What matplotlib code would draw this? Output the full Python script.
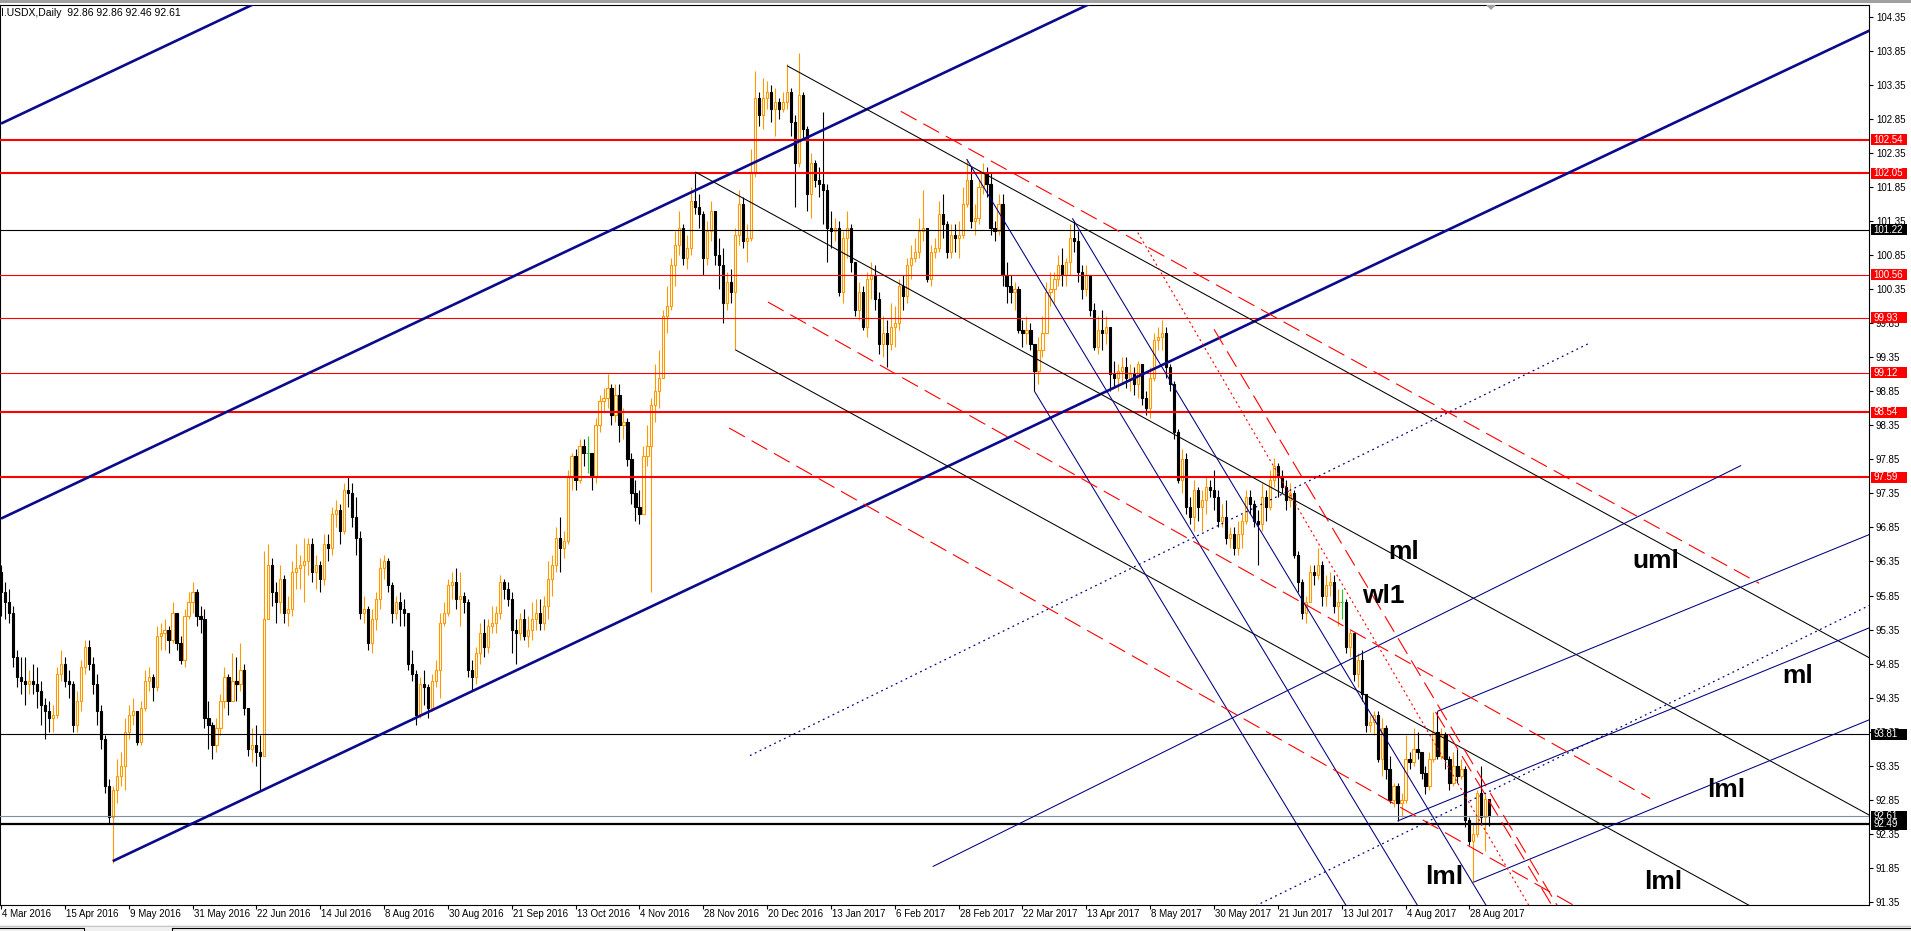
import numpy as np
import pandas as pd
import matplotlib
matplotlib.use('Agg')
import matplotlib.pyplot as plt
import matplotlib.transforms as mtransforms
from matplotlib.patches import Rectangle, Polygon

plt.rcParams['font.family'] = ['Liberation Sans', 'DejaVu Sans']
plt.rcParams['lines.scale_dashes'] = False

# ---------------- bars shown on the chart ----------------
holidays = ['2016-07-29', '2016-12-26', '2017-01-02', '2017-04-14']
days = pd.bdate_range('2016-03-24', '2017-09-04')
days = days[~days.isin(pd.to_datetime(holidays))]

first_open = 96.20

closes = [
    # Mar 2016
    95.90, 95.75, 95.60, 94.95, 94.65, 94.60,
    # Apr
    94.55, 94.60, 94.55, 94.45, 94.25, 94.15, 94.05, 94.10, 94.70, 94.85, 94.60,
    94.55, 93.95, 94.30, 94.80, 95.10, 94.85, 94.55, 94.15, 93.75, 93.05,
    # May
    92.60, 93.00, 93.20, 93.35, 93.85, 94.10, 94.15, 93.70, 94.20, 94.60, 94.65,
    94.50, 95.25, 95.30, 95.35, 95.20, 95.60, 95.15, 94.90, 95.55, 95.75, 95.90,
    # Jun
    95.55, 95.50, 94.05, 93.95, 93.65, 93.90, 94.30, 94.65, 94.30, 94.60, 94.55,
    94.75, 94.20, 93.60, 93.65, 93.55, 93.50, 95.50, 96.30, 95.90, 95.75, 96.10,
    # Jul
    95.60, 95.65, 96.20, 96.25, 96.30, 96.35, 96.60, 96.20, 96.30, 96.10,
    96.60, 96.55, 97.05, 97.10, 96.80, 97.40, 97.35, 97.00, 96.70, 95.60,
    # Aug
    95.65, 95.15, 95.50, 95.80, 96.25, 96.35, 96.00, 95.60, 95.75, 95.65, 95.60, 94.85,
    94.70, 94.10, 94.55, 94.50, 94.20, 94.60, 94.75, 95.45, 95.60, 96.00, 96.05,
    # Sep
    95.80, 95.85, 95.75, 94.75, 94.65, 95.00, 95.30, 95.10, 95.40, 95.45, 95.60,
    96.05, 95.95, 95.80, 95.35, 95.30, 95.50, 95.25, 95.35, 95.50, 95.60, 95.45,
    # Oct
    95.70, 96.10, 96.30, 96.70, 96.55, 96.65, 97.60, 97.90, 97.55, 98.05, 97.95,
    97.95, 97.60, 98.35, 98.70, 98.75, 98.90, 98.50, 98.80, 98.35, 98.40,
    # Nov
    97.85, 97.35, 97.15, 97.05, 97.90, 98.05, 98.65, 98.85, 99.05, 99.95, 100.10,
    100.70, 101.00, 101.25, 100.80, 100.95, 101.65, 101.55, 101.45, 100.80, 101.20, 101.50,
    # Dec
    100.85, 100.70, 100.15, 100.45, 100.30, 101.15, 101.60, 101.05, 101.10, 102.05, 103.15,
    102.90, 103.15, 103.25, 103.00, 103.10, 103.00, 103.10, 103.25, 102.80, 102.20,
    # Jan 2017
    103.20, 102.70, 101.75, 102.20, 101.95, 101.90, 101.80, 101.25, 101.20, 101.25, 100.30,
    101.10, 101.25, 100.75, 100.05, 100.30, 99.80, 100.50, 100.55, 100.20, 99.55,
    # Feb
    99.70, 99.55, 99.80, 99.85, 100.40, 100.25, 100.70, 100.80, 100.90, 101.20,
    101.25, 100.50, 100.90, 100.95, 101.45, 101.30, 100.90, 101.15, 101.10, 101.15,
    # Mar
    101.60, 101.95, 101.35, 101.40, 101.85, 102.05, 101.90, 101.25, 101.20, 101.60, 100.55, 100.40,
    100.30, 100.35, 99.75, 99.70, 99.75, 99.55, 99.15, 99.45, 99.70, 100.30, 100.35,
    # Apr
    100.50, 100.70, 100.55, 100.75, 101.10, 101.05, 100.60, 100.35, 100.55, 100.05,
    99.50, 99.75, 99.70, 99.80, 99.10, 99.05, 99.15, 99.20, 99.05,
    # May
    99.10, 98.95, 99.25, 98.75, 98.60, 99.05, 99.60, 99.65, 99.70, 99.20, 98.95, 98.25,
    97.55, 97.85, 97.15, 97.00, 97.40, 97.15, 97.25, 97.45, 97.40, 97.30, 96.95,
    # Jun
    97.00, 96.70, 96.75, 96.55, 96.75, 96.95, 97.30, 97.20, 96.95, 96.90, 97.30,
    97.15, 97.55, 97.75, 97.60, 97.45, 97.25, 97.35, 96.45, 96.05, 95.60, 95.75,
    # Jul
    96.20, 96.15, 96.30, 95.85, 96.00, 96.05, 95.70, 95.75, 95.75, 95.10, 95.30,
    94.70, 94.90, 94.40, 93.95, 94.00, 94.10, 93.45, 93.90, 93.30, 92.85,
    # Aug
    93.05, 92.80, 92.85, 93.45, 93.40, 93.60, 93.55, 93.25, 93.05, 93.45, 93.85, 93.50,
    93.80, 93.45, 93.10, 93.35, 93.20, 93.30, 92.55, 92.25, 92.35, 92.95, 92.60,
    # Sep
    92.86, 92.61,
]

highs = [
    96.30, 96.05, 95.95, 95.70, 95.05, 94.95,
    94.95, 94.75, 94.85, 94.80, 94.60, 94.35, 94.30, 94.25, 94.80, 95.05, 94.95,
    94.75, 94.60, 94.45, 94.90, 95.20, 95.20, 94.95, 94.70, 94.25, 93.80,
    93.15, 93.05, 93.45, 93.55, 94.05, 94.25, 94.35, 94.15, 94.30, 94.75, 94.80,
    94.70, 95.40, 95.45, 95.50, 95.40, 95.75, 95.60, 95.25, 95.65, 95.90, 96.05,
    95.95, 95.70, 95.65, 94.30, 94.00, 94.05, 94.40, 94.80, 94.70, 95.00, 94.95,
    95.15, 94.85, 94.15, 93.90, 93.95, 93.80, 96.50, 96.60, 96.40, 96.05, 96.30,
    96.15, 95.85, 96.35, 96.60, 96.45, 96.70, 96.70, 96.70, 96.45, 96.35,
    96.75, 96.75, 97.15, 97.25, 97.20, 97.50, 97.60, 97.50, 97.30, 96.80,
    95.85, 95.70, 95.65, 95.90, 96.40, 96.45, 96.40, 96.05, 95.85, 95.90, 95.80, 95.60,
    95.05, 94.75, 94.65, 94.75, 94.55, 94.70, 94.90, 95.60, 95.75, 96.10, 96.20,
    96.25, 96.20, 95.90, 95.80, 94.90, 95.10, 95.45, 95.50, 95.50, 95.70, 95.70,
    96.15, 96.10, 96.05, 95.90, 95.50, 95.60, 95.65, 95.55, 95.75, 95.80, 95.80,
    95.85, 96.35, 96.45, 96.85, 97.00, 96.80, 97.70, 97.95, 98.00, 98.15, 98.15,
    98.20, 97.80, 98.45, 98.80, 98.90, 99.10, 98.95, 98.95, 98.95, 98.60,
    98.45, 97.95, 97.55, 97.40, 98.05, 98.35, 98.75, 99.25, 99.45, 100.05, 100.40,
    100.80, 101.20, 101.50, 101.30, 101.15, 101.85, 102.05, 101.75, 101.50, 101.35, 101.65,
    101.50, 101.10, 100.95, 100.60, 100.65, 101.25, 101.80, 101.70, 101.30, 102.40, 103.55,
    103.25, 103.45, 103.40, 103.35, 103.30, 103.15, 103.25, 103.65, 103.30, 102.90,
    103.82, 103.25, 102.75, 102.35, 102.25, 102.15, 102.95, 101.90, 101.50, 101.40, 101.35,
    101.20, 101.50, 101.30, 100.75, 100.45, 100.40, 100.60, 100.75, 100.70, 100.30,
    99.95, 99.90, 100.15, 100.10, 100.50, 100.55, 100.80, 101.00, 101.10, 101.40,
    101.80, 101.20, 101.00, 101.10, 101.65, 101.75, 101.35, 101.30, 101.30, 101.35,
    101.85, 102.26, 102.15, 101.60, 101.95, 102.20, 102.15, 102.05, 101.35, 101.75, 101.75, 100.75,
    100.55, 100.45, 100.40, 99.90, 99.95, 99.85, 99.50, 99.65, 99.95, 100.45, 100.60,
    100.60, 100.85, 100.95, 100.80, 101.30, 101.35, 101.20, 100.70, 100.70, 100.50,
    100.15, 99.95, 100.05, 99.95, 99.40, 99.30, 99.25, 99.35, 99.35,
    99.25, 99.20, 99.30, 99.25, 98.85, 99.20, 99.70, 99.80, 99.90, 99.80, 99.25, 99.00,
    98.30, 98.00, 97.95, 97.30, 97.55, 97.45, 97.40, 97.60, 97.55, 97.70, 97.40,
    97.20, 97.25, 96.85, 96.85, 96.95, 97.05, 97.40, 97.40, 97.25, 97.10, 97.50,
    97.40, 97.70, 97.87, 97.80, 97.70, 97.55, 97.50, 97.40, 96.50, 96.10, 95.85,
    96.30, 96.30, 96.55, 96.35, 96.15, 96.20, 96.15, 95.95, 95.95, 95.80, 95.35,
    95.15, 95.00, 95.05, 94.40, 94.10, 94.15, 94.15, 94.05, 93.95, 93.50,
    93.10, 93.10, 92.95, 93.80, 93.55, 93.90, 93.85, 93.55, 93.35, 93.55, 94.14, 94.15,
    93.90, 93.85, 93.50, 93.55, 93.60, 93.45, 93.35, 92.60, 92.50, 93.00, 93.35,
    92.95, 92.86,
]

lows = [
    95.55, 95.50, 95.45, 94.80, 94.50, 94.40,
    94.25, 94.40, 94.40, 94.20, 93.95, 93.75, 93.85, 93.85, 94.05, 94.60, 94.50,
    94.35, 93.85, 93.85, 94.15, 94.70, 94.75, 94.40, 93.95, 93.60, 92.95,
    92.50, 91.92, 92.80, 93.05, 93.00, 93.75, 93.95, 93.65, 93.65, 94.15, 94.45,
    94.30, 94.45, 95.05, 95.05, 95.00, 95.15, 95.05, 94.85, 94.80, 95.50, 95.60,
    95.40, 95.30, 93.90, 93.60, 93.45, 93.55, 93.80, 94.20, 94.10, 94.30, 94.30,
    94.45, 94.10, 93.50, 93.40, 93.35, 93.00, 93.60, 95.50, 95.70, 95.45, 95.60,
    95.45, 95.40, 95.55, 95.95, 95.95, 95.75, 96.15, 96.05, 95.95, 95.90,
    96.00, 96.35, 96.45, 96.85, 96.60, 96.75, 97.15, 96.85, 96.45, 95.50,
    95.45, 95.05, 95.00, 95.35, 95.65, 96.10, 95.90, 95.45, 95.50, 95.40, 95.40, 94.75,
    94.60, 93.95, 94.05, 94.25, 94.05, 94.15, 94.50, 94.35, 95.40, 95.55, 95.80,
    95.65, 95.40, 95.60, 94.65, 94.45, 94.55, 94.85, 94.95, 95.00, 95.30, 95.30,
    95.50, 95.80, 95.70, 95.00, 94.85, 95.20, 95.20, 95.10, 95.20, 95.35, 95.35,
    95.35, 95.50, 95.85, 96.20, 96.20, 96.40, 96.60, 97.40, 97.40, 97.50, 97.75,
    97.65, 97.40, 97.50, 98.25, 98.55, 98.60, 98.35, 98.40, 98.10, 98.15,
    97.75, 97.20, 96.95, 96.90, 97.25, 97.75, 95.90, 98.40, 98.60, 99.05, 99.70,
    100.05, 100.40, 100.85, 100.70, 100.65, 100.85, 101.45, 101.25, 100.55, 100.70, 101.05,
    100.70, 100.35, 99.85, 100.05, 100.15, 99.47, 101.00, 100.95, 100.75, 101.05, 102.00,
    102.75, 102.70, 103.00, 102.80, 102.60, 102.85, 102.95, 103.00, 102.60, 101.55,
    102.15, 102.55, 101.50, 101.40, 101.85, 101.70, 101.30, 100.75, 100.95, 101.05, 100.25,
    100.15, 100.80, 100.60, 99.95, 99.90, 99.75, 99.65, 100.20, 100.05, 99.40,
    99.35, 99.20, 99.45, 99.50, 99.75, 100.05, 100.15, 100.50, 100.75, 100.80,
    101.05, 100.45, 100.40, 100.80, 100.90, 101.10, 100.80, 100.80, 100.90, 100.80,
    101.10, 101.55, 101.25, 101.15, 101.30, 101.75, 101.70, 101.15, 101.05, 101.15, 100.40, 100.15,
    100.15, 100.05, 99.70, 99.50, 99.55, 99.45, 98.85, 98.95, 99.35, 99.70, 100.10,
    100.15, 100.40, 100.40, 100.40, 100.55, 100.90, 100.45, 100.20, 100.25, 99.95,
    99.45, 99.40, 99.45, 99.55, 98.85, 98.90, 98.85, 98.95, 98.90,
    98.85, 98.80, 98.75, 98.65, 98.50, 98.45, 99.00, 99.45, 99.45, 99.05, 98.85, 98.15,
    97.50, 97.35, 97.05, 96.90, 96.80, 96.95, 96.80, 97.05, 97.30, 97.10, 96.85,
    96.85, 96.60, 96.55, 96.45, 96.45, 96.55, 96.90, 97.05, 96.85, 96.30, 96.80,
    96.95, 97.10, 97.45, 97.30, 97.35, 97.10, 97.15, 96.40, 95.90, 95.50, 95.45,
    95.75, 96.00, 96.10, 95.70, 95.70, 95.85, 95.60, 95.40, 95.50, 95.00, 94.95,
    94.60, 94.50, 94.30, 93.85, 93.85, 93.80, 93.40, 93.20, 93.15, 92.80,
    92.75, 92.54, 92.60, 92.80, 93.30, 93.35, 93.45, 93.15, 92.93, 93.00, 93.40, 93.45,
    93.45, 93.30, 93.00, 93.05, 93.10, 93.15, 92.45, 92.18, 91.64, 92.30, 92.48,
    92.10, 92.46,
]

tick_bars = list(range(0, 369, 16))
tick_labels = ['4 Mar 2016', '15 Apr 2016', '9 May 2016', '31 May 2016', '22 Jun 2016',
               '14 Jul 2016', '8 Aug 2016', '30 Aug 2016', '21 Sep 2016', '13 Oct 2016',
               '4 Nov 2016', '28 Nov 2016', '20 Dec 2016', '13 Jan 2017', '6 Feb 2017',
               '28 Feb 2017', '22 Mar 2017', '13 Apr 2017', '8 May 2017', '30 May 2017',
               '21 Jun 2017', '13 Jul 2017', '4 Aug 2017', '28 Aug 2017']
price_ticks = [91.35 + 0.5 * k for k in range(27)]

# horizontal levels
levels = [102.54, 102.05, 101.22, 100.56, 99.93, 99.12, 98.54, 97.59, 93.81, 92.61, 92.49]
level_kind = ['red2', 'red2', 'blk', 'red', 'red', 'red', 'red2', 'red2', 'blk', 'cur', 'blk2']

# drawn objects: (start bar, start price, end bar, end price)
channel = [(0, 102.78, 80, 104.996), (0, 96.98, 300, 105.29), (28, 91.95, 468.4, 104.15)]
black_fork = [(197, 103.63, 468.4, 94.93), (174, 102.07, 468.4, 92.62), (184, 99.46, 440, 91.24)]
red_dashed = [(225.5, 102.96, 440.6, 96.03), (192.2, 100.16, 413.3, 92.87),
              (182.5, 98.31, 394.2, 91.30), (304.0, 99.76, 390, 91.30), (359.5, 94.14, 389, 91.27)]
red_dotted = [(284.9, 101.18, 383, 91.29)]
blue_solid = [(242, 102.26, 355, 91.30), (268.5, 101.39, 372.5, 91.27), (259, 98.85, 337.5, 91.26),
              (233.5, 91.87, 436.1, 97.76), (360, 94.15, 468.4, 96.75), (350, 92.54, 468.4, 95.38),
              (369, 91.64, 468.4, 94.03)]
blue_dotted = [(187.7, 93.50, 398.2, 99.56), (300, 90.88, 468.4, 95.71)]

fork_names = ['ml', 'wl1', 'uml', 'ml', 'lml', 'lml', 'lml']
fork_name_at = [(347.7, 96.39), (341.1, 95.74), (408.9, 96.26), (446.3, 94.56),
                (427.7, 92.89), (356.8, 91.62), (411.9, 91.54)]

ORANGE = '#FF9900'
GREEN = '#22CC22'
NAVY = '#000080'
NAVY_THICK = '#0A0A8C'

n = len(days)
if not (len(closes) == len(highs) == len(lows) == n):
    raise SystemExit(f'lengths: days {n} c {len(closes)} h {len(highs)} l {len(lows)}')

W, H = 1911, 931
fig = plt.figure(figsize=(W / 100, H / 100), dpi=100)
fig.patch.set_facecolor('white')
ax = fig.add_axes([0, (H - 905) / H, 1869 / W, 900.5 / H])
ax.set_xlim(-0.25, 468.15)
ax.set_ylim(91.306, 104.529)

# candles
x = np.arange(n)
o = np.array([first_open] + closes[:-1])
c = np.array(closes)
h = np.array(highs)
l = np.array(lows)
up = c > o
dn = c < o
flat = c == o
wick_col = np.where(up, ORANGE, np.where(dn, 'black', GREEN))
ax.vlines(x, l, h, colors=wick_col, lw=0.8, zorder=2)
ax.bar(x[up], (c - o)[up], bottom=o[up], width=0.55, facecolor='white',
       edgecolor=ORANGE, lw=0.8, zorder=2.1)
ax.bar(x[dn], (o - c)[dn], bottom=c[dn], width=0.55, facecolor='black',
       edgecolor='black', lw=0.8, zorder=2.1)
ax.hlines(c[flat], x[flat] - 0.4, x[flat] + 0.4, colors=GREEN, lw=0.8, zorder=2.1)

# horizontal levels
style = {'red': ('red', 0.8), 'red2': ('red', 1.5), 'blk': ('black', 0.8),
         'blk2': ('black', 1.6), 'cur': ('#8090A0', 0.8)}
for lv, kd in zip(levels, level_kind):
    col, lw = style[kd]
    ax.axhline(lv, color=col, lw=lw, zorder=3)

def draw(segs, **kw):
    for x0, y0, x1, y1 in segs:
        ax.plot([x0, x1], [y0, y1], zorder=3, solid_capstyle='butt', **kw)

draw(channel, color=NAVY_THICK, lw=1.9)
draw(black_fork, color='black', lw=0.75)
draw(blue_solid, color=NAVY, lw=0.75)
draw(red_dashed, color='red', lw=0.8, dashes=(13, 5.5))
draw(red_dotted, color='red', lw=0.8, dashes=(1.5, 2.2))
draw(blue_dotted, color=NAVY, lw=0.9, dashes=(1.3, 2.6))

for name, (bx, by) in zip(fork_names, fork_name_at):
    ax.text(bx, by, name, fontsize=19, fontweight='bold', color='black',
            ha='left', va='baseline', zorder=4)

# axes look
for sp in ax.spines.values():
    sp.set_color('black')
    sp.set_linewidth(0.8)
ax.set_xticks(tick_bars)
ax.set_xticklabels([])
ax.tick_params(axis='x', direction='out', length=3, width=0.8, colors='black')
ax.yaxis.tick_right()
ax.set_yticks(price_ticks)
ax.set_yticklabels([f'{v:.2f}' for v in price_ticks])
ax.tick_params(axis='y', direction='out', length=3, width=0.8, pad=2,
               labelsize=7, colors='black')

lab_tr = mtransforms.offset_copy(ax.get_xaxis_transform(), fig=fig, x=1, y=-9, units='dots')
for b, t in zip(tick_bars, tick_labels):
    ax.text(b, 0, t, transform=lab_tr, fontsize=7, ha='left', va='center', clip_on=False)
ax.text(0, 0, '', transform=lab_tr)

# price tags on the scale
tag_tr = mtransforms.blended_transform_factory(ax.transAxes, ax.transData)
tag_h = 11 / 68.1
for lv, kd in zip(levels, level_kind):
    bg = 'red' if kd.startswith('red') else 'black'
    ax.add_patch(Rectangle((1871 / 1869, lv - tag_h / 2), 36 / 1869, tag_h, transform=tag_tr,
                           facecolor=bg, edgecolor='none', clip_on=False, zorder=10))
    ax.text(1873.5 / 1869, lv, f'{lv:.2f}', transform=tag_tr, color='white', fontsize=7,
            ha='left', va='center', clip_on=False, zorder=11)

# header and window decorations
fig.text(1 / W, 1 - 13 / H, 'I.USDX,Daily  92.86 92.86 92.46 92.61', fontsize=7.5,
         ha='left', va='center', color='black')
fig.patches.append(Rectangle((0, 1 - 2.5 / H), 1, 2.5 / H, transform=fig.transFigure,
                             facecolor='#A0A0A0', edgecolor='none'))
fig.patches.append(Polygon([(1486 / W, 1 - 5 / H), (1496 / W, 1 - 5 / H), (1491 / W, 1 - 10 / H)],
                           closed=True, transform=fig.transFigure, facecolor='#A0A0A0',
                           edgecolor='none'))
fig.patches.append(Rectangle((0, 0), 1, 6 / H, transform=fig.transFigure,
                             facecolor='#F0F0F0', edgecolor='none'))
fig.lines.append(plt.Line2D([0, 1], [1 - 925.5 / H] * 2, transform=fig.transFigure,
                            color='#C8C8C8', lw=0.8))
fig.lines.append(plt.Line2D([172 / W, 1], [1 - 928 / H] * 2, transform=fig.transFigure,
                            color='black', lw=0.8))
fig.lines.append(plt.Line2D([0, 84 / W, 84 / W], [1 - 928 / H, 1 - 928 / H, 0],
                            transform=fig.transFigure, color='black', lw=0.8))
fig.lines.append(plt.Line2D([172 / W, 172 / W], [1 - 928 / H, 0],
                            transform=fig.transFigure, color='black', lw=0.8))

fig.savefig('out.png', dpi=100)
